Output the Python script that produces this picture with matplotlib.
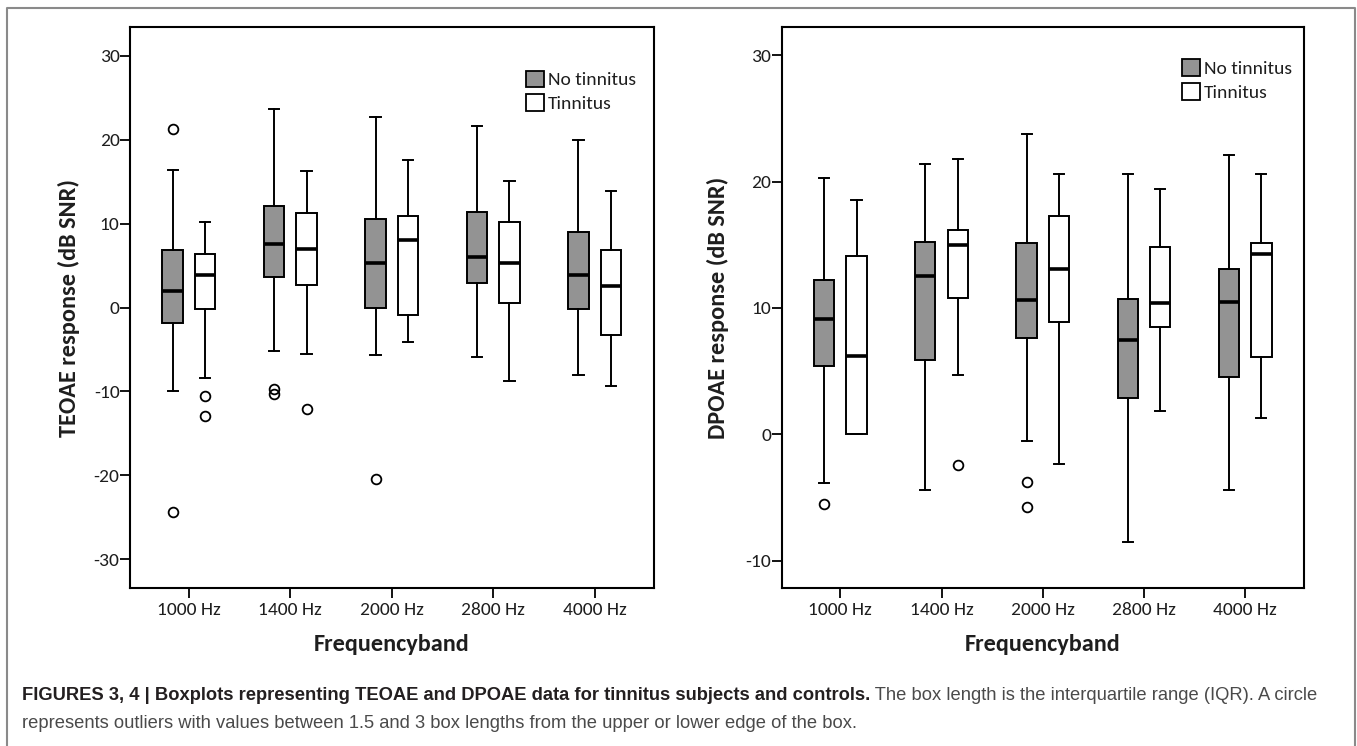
import numpy as np
import matplotlib
matplotlib.use('Agg')
import matplotlib.pyplot as plt
from matplotlib import font_manager
from matplotlib.patches import Patch
from matplotlib.lines import Line2D

plt.rcParams['axes.unicode_minus'] = False

installed = {f.name for f in font_manager.fontManager.ttflist}
chart_font = next((f for f in ['Carlito', 'Open Sans'] if f in installed), 'DejaVu Sans')
caption_font = 'Liberation Sans' if 'Liberation Sans' in installed else 'DejaVu Sans'

bands = ['1000 Hz', '1400 Hz', '2000 Hz', '2800 Hz', '4000 Hz']
groups = ['No tinnitus', 'Tinnitus']

# rows per band: (lower whisker, Q1, median, Q3, upper whisker)
teoae_no = [(-9.9, -1.8, 2.0, 6.8, 16.4),
            (-5.2, 3.7, 7.6, 12.1, 23.7),
            (-5.6, 0.0, 5.3, 10.6, 22.7),
            (-5.9, 2.9, 6.0, 11.4, 21.7),
            (-8.0, -0.2, 3.9, 9.0, 20.0)]
teoae_no_out = [[21.3, -24.4], [-9.7, -10.3], [-20.5], [], []]

teoae_tin = [(-8.4, -0.2, 3.9, 6.4, 10.2),
             (-5.5, 2.7, 7.0, 11.3, 16.3),
             (-4.1, -0.9, 8.0, 10.9, 17.6),
             (-8.7, 0.6, 5.3, 10.2, 15.1),
             (-9.3, -3.3, 2.6, 6.9, 13.9)]
teoae_tin_out = [[-10.6, -12.9], [-12.1], [], [], []]

dpoae_no = [(-3.9, 5.4, 9.1, 12.2, 20.3),
            (-4.4, 5.9, 12.5, 15.25, 21.35),
            (-0.5, 7.6, 10.6, 15.1, 23.8),
            (-8.55, 2.9, 7.45, 10.7, 20.6),
            (-4.4, 4.5, 10.5, 13.1, 22.1)]
dpoae_no_out = [[-5.55], [], [-3.8, -5.75], [], []]

dpoae_tin = [(0.0, 0.0, 6.15, 14.1, 18.5),
             (4.7, 10.8, 15.0, 16.2, 21.8),
             (-2.35, 8.9, 13.1, 17.3, 20.6),
             (1.85, 8.45, 10.4, 14.8, 19.4),
             (1.3, 6.1, 14.25, 15.15, 20.6)]
dpoae_tin_out = [[], [-2.45], [], [], []]

gray = '#939393'
ink = '#1e1e1e'
tick_size = 14


def make_stats(rows, outliers):
    return [dict(whislo=r[0], q1=r[1], med=r[2], q3=r[3], whishi=r[4], fliers=o)
            for r, o in zip(rows, outliers)]


def draw_panel(ax, no_rows, no_out, tin_rows, tin_out, ylabel, yticks, ylim, label_x, legend_xy):
    pos = np.arange(len(bands))
    for rows, out, off, color in [(no_rows, no_out, -0.16, gray), (tin_rows, tin_out, 0.16, 'white')]:
        ax.bxp(make_stats(rows, out), positions=pos + off, widths=0.2, capwidths=0.1,
               patch_artist=True, manage_ticks=False,
               boxprops=dict(facecolor=color, edgecolor='black', linewidth=1.4),
               medianprops=dict(color='black', linewidth=2.6, solid_capstyle='butt'),
               whiskerprops=dict(color='black', linewidth=1.4),
               capprops=dict(color='black', linewidth=1.4),
               flierprops=dict(marker='o', markerfacecolor='none', markeredgecolor='black',
                               markersize=7, markeredgewidth=1.3))
    ax.set_xlim(-0.58, 4.58)
    ax.set_ylim(*ylim)
    ax.set_xticks(pos, bands)
    ax.set_yticks(yticks)
    for s in ax.spines.values():
        s.set_linewidth(1.5)
    ax.tick_params(axis='both', direction='out', length=7, width=1.3, labelsize=tick_size,
                   labelcolor=ink)
    ax.tick_params(axis='y', pad=0.5)
    ax.tick_params(axis='x', pad=3)
    for lab in ax.get_xticklabels() + ax.get_yticklabels():
        lab.set_family(chart_font)
    ax.set_ylabel(ylabel, family=chart_font, fontsize=17.5, fontweight='bold', color=ink)
    ax.set_xlabel('Frequencyband', family=chart_font, fontsize=17.5, fontweight='bold', color=ink,
                  va='top')
    ax.yaxis.set_label_coords(label_x, 0.5)
    ax.xaxis.set_label_coords(0.5, -0.082)
    handles = [Patch(facecolor=gray, edgecolor='black', linewidth=1.3, label=groups[0]),
               Patch(facecolor='white', edgecolor='black', linewidth=1.3, label=groups[1])]
    ax.legend(handles=handles, loc='upper left', bbox_to_anchor=legend_xy, frameon=False,
              handlelength=0.93, handleheight=0.93, handletextpad=0.2, labelspacing=0.3,
              borderpad=0, borderaxespad=0, prop=dict(family=chart_font, size=tick_size),
              labelcolor=ink)


fig = plt.figure(figsize=(13.57, 7.46), dpi=100)
ax1 = fig.add_axes([0.0958, 0.2122, 0.3858, 0.7511])
ax2 = fig.add_axes([0.5760, 0.2122, 0.3849, 0.7511])

draw_panel(ax1, teoae_no, teoae_no_out, teoae_tin, teoae_tin_out, 'TEOAE response (dB SNR)',
           [-30, -20, -10, 0, 10, 20, 30], (-33.4, 33.4), -0.0955, (0.756, 0.923))
draw_panel(ax2, dpoae_no, dpoae_no_out, dpoae_tin, dpoae_tin_out, 'DPOAE response (dB SNR)',
           [-10, 0, 10, 20, 30], (-12.15, 32.2), -0.101, (0.766, 0.943))

# outer frame
fx0, fx1, fy1 = 7 / 1357, 1355 / 1357, 1 - 8 / 746
fig.add_artist(Line2D([fx0, fx0, fx1, fx1], [0, fy1, fy1, 0], transform=fig.transFigure,
                      color='#8a8a8a', linewidth=1.5))

# caption
cap_size = 13.2
cap_bold = fig.text(22 / 1357, 1 - 700 / 746,
                    'FIGURES 3, 4 | Boxplots representing TEOAE and DPOAE data for tinnitus subjects and controls.',
                    family=caption_font, fontsize=cap_size, fontweight='bold', color='#231f20',
                    va='baseline')
cap_rest = fig.text(0, 0, ' The box length is the interquartile range (IQR). A circle',
                    family=caption_font, fontsize=cap_size, color='#4a4a4a', va='baseline', ha='left')
fig.canvas.draw()
bb = cap_bold.get_window_extent()
cap_rest.set_position((bb.x1 / fig.bbox.width, 1 - 700 / 746))
fig.text(22 / 1357, 1 - 728 / 746,
         'represents outliers with values between 1.5 and 3 box lengths from the upper or lower edge of the box.',
         family=caption_font, fontsize=cap_size, color='#4a4a4a', va='baseline')

fig.savefig('out.png', dpi=100)
